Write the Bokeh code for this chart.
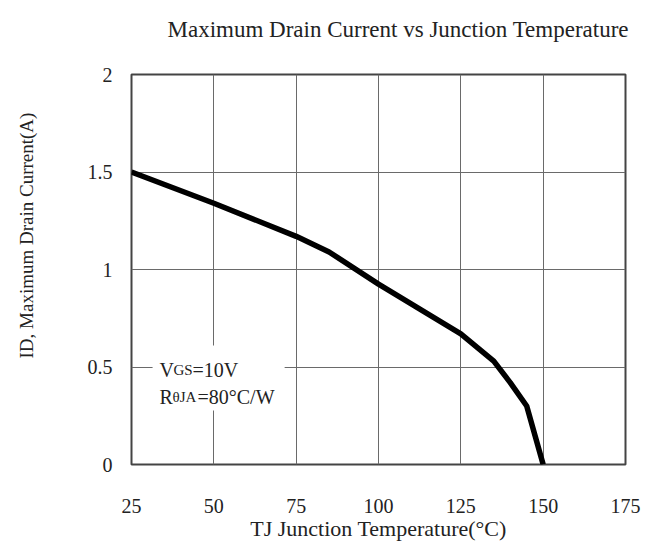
import math
from bokeh.plotting import figure
from bokeh.models import Range1d, FixedTicker, Label, BoxAnnotation, ColumnDataSource, Title
from bokeh.embed import file_html
from bokeh.resources import INLINE

# ---- data ----
temp_c = [25, 50, 75, 85, 100, 125, 135, 140, 145, 150]
drain_current_a = [1.50, 1.34, 1.17, 1.09, 0.925, 0.67, 0.53, 0.42, 0.30, 0.0]
x_ticks = [25, 50, 75, 100, 125, 150, 175]
y_ticks = [0, 0.5, 1, 1.5, 2]
y_tick_labels = ["0", "0.5", "1", "1.5", "2"]
title_text = "Maximum Drain Current vs Junction Temperature"
x_label = "TJ Junction Temperature(°C)"
y_label = "ID, Maximum Drain Current(A)"

FONT = "Liberation Serif"

p = figure(width=655, height=544, output_backend="svg", toolbar_location=None,
           x_range=Range1d(25, 175), y_range=Range1d(0, 2),
           min_border_left=131, min_border_right=30, min_border_top=74, min_border_bottom=80)
p.background_fill_color = "white"
p.border_fill_color = "white"
p.outline_line_color = "#444444"
p.outline_line_width = 2

# trailing blank line lifts the visible title line upward in its panel
p.title.text = title_text + "\n "
p.title.text_font = FONT
p.title.text_font_size = "23px"
p.title.text_font_style = "normal"
p.title.text_color = "#222222"
p.title.align = "left"
p.title.offset = 36
p.title.standoff = 16

for ax in (p.xaxis, p.yaxis):
    ax.axis_line_color = None
    ax.major_tick_line_color = None
    ax.minor_tick_line_color = None
    ax.major_tick_out = 0
    ax.major_label_text_font = FONT
    ax.major_label_text_font_size = "20px"
    ax.major_label_text_color = "#222222"

p.xaxis.ticker = FixedTicker(ticks=x_ticks)
p.yaxis.ticker = FixedTicker(ticks=y_ticks)
p.yaxis.major_label_overrides = {t: s for t, s in zip(y_ticks, y_tick_labels)}
p.xaxis.major_label_standoff = 34
p.yaxis.major_label_standoff = 19

p.xaxis.axis_label = x_label
p.xaxis.axis_label_text_font = FONT
p.xaxis.axis_label_text_font_size = "22px"
p.xaxis.axis_label_text_font_style = "normal"
p.xaxis.axis_label_text_color = "#222222"
p.xaxis.axis_label_standoff = 0

ytitle = Title(text=y_label + "\n \n ", align="left", offset=106, standoff=12,
               text_font=FONT, text_font_size="19px", text_font_style="normal", text_color="#222222")
p.add_layout(ytitle, "left")

p.xgrid.ticker = FixedTicker(ticks=x_ticks)
p.ygrid.ticker = FixedTicker(ticks=y_ticks)
for g in (p.xgrid, p.ygrid):
    g.grid_line_color = "#6a6a6a"
    g.grid_line_width = 1

# white box behind annotation text
p.add_layout(BoxAnnotation(left=31.4, right=71.5, bottom=0.277, top=0.61,
                           fill_color="white", fill_alpha=1.0, line_color=None, level="underlay"))

src = ColumnDataSource(dict(x=temp_c, y=drain_current_a))
p.line("x", "y", source=src, line_color="black", line_width=5.5)

def lab(text, x, y, xo, yo, size, **kw):
    p.add_layout(Label(x=x, y=y, x_offset=xo, y_offset=yo, text=text,
                       text_font=FONT, text_font_size=size, text_color="#222222", **kw))

# annotation: V_GS=10V, RθJA=80°C/W
base1 = 95 / 195.0
base2 = 68 / 195.0
lab("V", 25, base1, 28, 0, "20px", text_baseline="alphabetic")
lab("GS", 25, base1, 42, 0, "15px", text_baseline="alphabetic")
lab("=10V", 25, base1, 61, 0, "20px", text_baseline="alphabetic")
lab("R", 25, base2, 28, 0, "20px", text_baseline="alphabetic")
lab("θJA", 25, base2, 41, 0, "15px", text_baseline="alphabetic")
lab("=80°C/W", 25, base2, 66, 0, "20px", text_baseline="alphabetic")

open("out.html", "w").write(file_html(p, INLINE))
